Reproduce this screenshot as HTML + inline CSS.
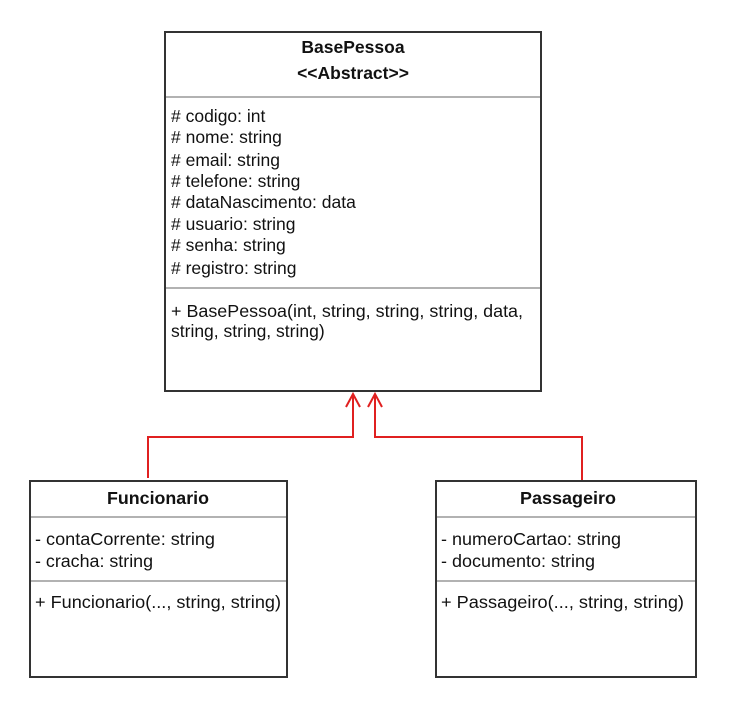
<!DOCTYPE html>
<html><head><meta charset="utf-8"><style>
html,body{margin:0;padding:0;background:#fff;}
svg{display:block;}
text{font-family:"Liberation Sans",Arial,sans-serif;font-size:17.5px;fill:#111;}
.b{font-weight:bold;}
</style></head><body>
<svg width="737" height="708" viewBox="0 0 737 708" xmlns="http://www.w3.org/2000/svg">
<g fill="none" stroke="#e02020" stroke-width="2">
<polyline points="148,478 148,437 353,437 353,395"/>
<polyline points="582,482 582,437 375,437 375,395"/>
<polyline points="346,407 353,394 360,407"/>
<polyline points="368,407 375,394 382,407"/>
</g>
<g fill="#fff" stroke="#333" stroke-width="2">
<rect x="165" y="32" width="376" height="359"/>
<rect x="30" y="481" width="257" height="196"/>
<rect x="436" y="481" width="260" height="196"/>
</g>
<g stroke="#999" stroke-width="1.5">
<line x1="166" y1="97" x2="540" y2="97"/>
<line x1="166" y1="288" x2="540" y2="288"/>
<line x1="31" y1="517" x2="286" y2="517"/>
<line x1="31" y1="581" x2="286" y2="581"/>
<line x1="437" y1="517" x2="695" y2="517"/>
<line x1="437" y1="581" x2="695" y2="581"/>
</g>
<text class="b" x="353" y="53" text-anchor="middle">BasePessoa</text>
<text class="b" x="353" y="79" text-anchor="middle">&lt;&lt;Abstract&gt;&gt;</text>
<text x="171" y="122"># codigo: int</text>
<text x="171" y="143"># nome: string</text>
<text x="171" y="166"># email: string</text>
<text x="171" y="187"># telefone: string</text>
<text x="171" y="208"># dataNascimento: data</text>
<text x="171" y="230"># usuario: string</text>
<text x="171" y="251"># senha: string</text>
<text x="171" y="274"># registro: string</text>
<text x="171" y="317" textLength="352" lengthAdjust="spacingAndGlyphs">+ BasePessoa(int, string, string, string, data,</text>
<text x="171" y="337">string, string, string)</text>
<text class="b" x="158" y="504" text-anchor="middle" textLength="102" lengthAdjust="spacingAndGlyphs">Funcionario</text>
<text x="35" y="545" textLength="180" lengthAdjust="spacingAndGlyphs">- contaCorrente: string</text>
<text x="35" y="567" textLength="118" lengthAdjust="spacingAndGlyphs">- cracha: string</text>
<text x="35" y="608" textLength="246" lengthAdjust="spacingAndGlyphs">+ Funcionario(..., string, string)</text>
<text class="b" x="568" y="504" text-anchor="middle" textLength="96" lengthAdjust="spacingAndGlyphs">Passageiro</text>
<text x="441" y="545" textLength="180" lengthAdjust="spacingAndGlyphs">- numeroCartao: string</text>
<text x="441" y="567" textLength="154" lengthAdjust="spacingAndGlyphs">- documento: string</text>
<text x="441" y="608" textLength="243" lengthAdjust="spacingAndGlyphs">+ Passageiro(..., string, string)</text>
</svg>
</body></html>
